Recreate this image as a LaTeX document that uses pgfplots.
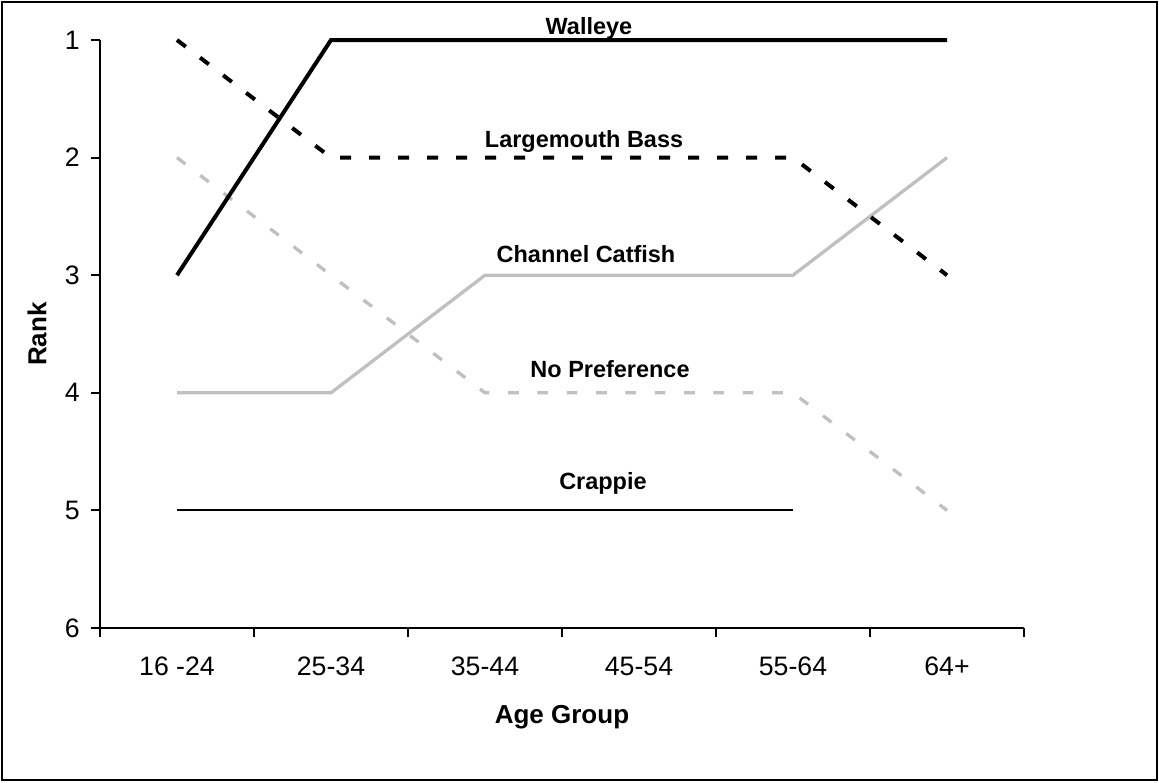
\documentclass[border=0pt]{standalone}
\usepackage{fontspec}
\setmainfont{Liberation Sans}
\usepackage{pgfplots}
\pgfplotsset{compat=1.18}
\definecolor{lgray}{HTML}{C0C0C0}
\begin{document}
\begin{tikzpicture}
\useasboundingbox (-75pt,-115.5pt) rectangle (794.25pt,471pt);
\draw[line width=1.5pt] (-73.5pt,-114pt) rectangle (792.75pt,469.5pt);
\begin{axis}[
  at={(0,0)}, anchor=south west,
  scale only axis, width=693pt, height=441pt,
  xmin=-0.5, xmax=5.5, ymin=1, ymax=6, y dir=reverse,
  axis x line*=bottom, axis y line*=left,
  axis line style={line width=1.5pt, -},
  xtick={-0.5,0.5,...,5.5},
  x tick label as interval,
  xticklabels={16 -24,25-34,35-44,45-54,55-64,64+},
  ytick={1,...,6},
  tick align=outside,
  major tick length=6.75pt,
  tick style={line width=1.5pt, black},
  ticklabel style={font=\fontsize{20}{23}\selectfont},
  xticklabel style={yshift=-11.5pt},
  yticklabel style={xshift=-5pt},
  /pgf/number format/assume math mode=true,
  xlabel={Age Group}, ylabel={Rank},
  label style={font=\fontsize{19.5}{23}\selectfont\bfseries},
  xlabel style={at={(axis description cs:0.5,-0.163)}, anchor=base},
  ylabel style={at={(axis description cs:-0.068,0.5)}, anchor=center},
  clip=false,
]
\addplot[black, line width=1.5pt] coordinates {(0,5)(1,5)(2,5)(3,5)(4,5)};
\addplot[lgray, line width=2.5pt, dash pattern=on 8pt off 14pt] coordinates {(0,2)(1,3)(2,4)(3,4)(4,4)(5,5)};
\addplot[lgray, line width=2.5pt] coordinates {(0,4)(1,4)(2,3)(3,3)(4,3)(5,2)};
\addplot[black, line width=3pt, dash pattern=on 8.25pt off 13.5pt] coordinates {(0,1)(1,2)(2,2)(3,2)(4,2)(5,3)};
\addplot[black, line width=3pt] coordinates {(0,3)(1,1)(2,1)(3,1)(4,1)(5,1)};
\begin{scope}[every node/.style={anchor=base, font=\fontsize{17.6}{20}\selectfont\bfseries}]
\node at (axis cs:2.675,0.957) {Walleye};
\node at (axis cs:2.643,1.91) {Largemouth Bass};
\node at (axis cs:2.656,2.888) {Channel Catfish};
\node at (axis cs:2.812,3.866) {No Preference};
\node at (axis cs:2.766,4.818) {Crappie};
\end{scope}
\end{axis}
\end{tikzpicture}
\end{document}
